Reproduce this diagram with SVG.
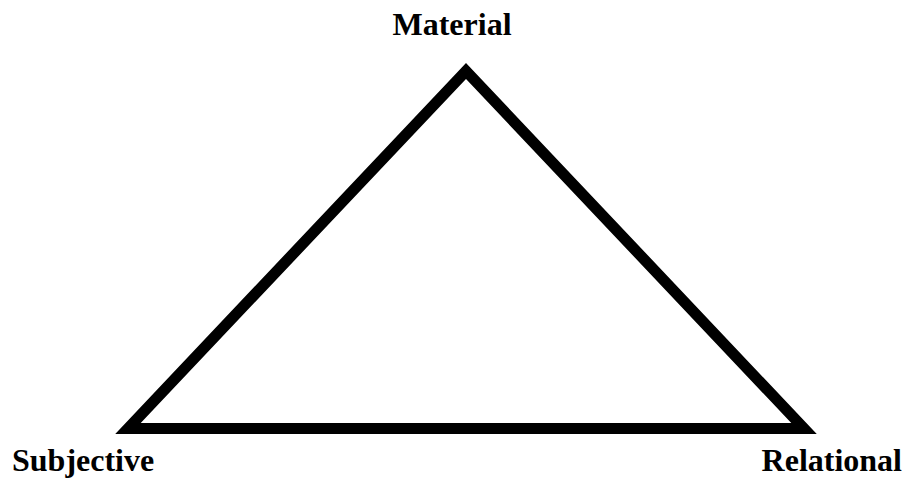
<svg xmlns="http://www.w3.org/2000/svg" width="909" height="479" viewBox="0 0 909 479">
<style>
.lbl{font-family:"Liberation Serif","Times New Roman",serif;font-weight:bold;font-size:32px;fill:#000}
.tri{fill:none;stroke:#000;stroke-width:11;stroke-linejoin:miter;stroke-miterlimit:10}
</style>
<rect width="909" height="479" fill="#fff"/>
<g id="connectors">
<polygon class="tri" points="466,71 128,428.5 804,428.5"/>
</g>
<g id="material"><text class="lbl" x="452" y="35" text-anchor="middle">Material</text></g>
<g id="subjective"><text class="lbl" x="12" y="471">Subjective</text></g>
<g id="relational"><text class="lbl" x="902" y="471" text-anchor="end">Relational</text></g>
</svg>
